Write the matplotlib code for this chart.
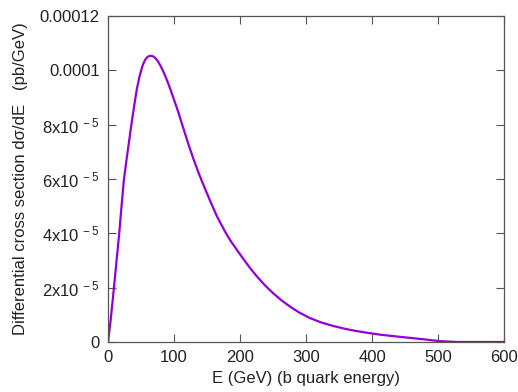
import matplotlib

matplotlib.use("Agg")
import matplotlib.pyplot as plt

plt.rcParams["font.family"] = ["Liberation Sans", "DejaVu Sans"]
plt.rcParams["mathtext.fontset"] = "custom"
plt.rcParams["mathtext.rm"] = "Liberation Sans"
plt.rcParams["mathtext.default"] = "regular"

# Energia del quark b (GeV) y seccion eficaz diferencial (pb/GeV)
energy = [0, 4, 9, 13, 17, 20.5, 24, 28, 32, 36, 40, 44, 48, 52, 56, 60, 64,
          68, 72, 76, 80, 84, 88, 92, 96, 100, 106, 114, 122, 130, 138, 146,
          155, 165, 177, 185, 195, 205, 215, 225, 238, 250, 263, 276, 290,
          306, 323, 341, 360, 377, 395, 412, 442, 478, 503, 530, 600]
dsigma = [0, 0.8e-5, 2.0e-5, 3.0e-5, 4.0e-5, 5.0e-5, 5.95e-5, 6.7e-5, 7.4e-5,
          8.1e-5, 8.75e-5, 9.35e-5, 9.8e-5, 1.015e-4, 1.038e-4, 1.05e-4, 1.054e-4,
          1.052e-4, 1.045e-4, 1.032e-4, 1.015e-4, 9.95e-5, 9.72e-5, 9.47e-5,
          9.2e-5, 8.92e-5, 8.5e-5, 7.88e-5, 7.27e-5, 6.7e-5, 6.18e-5, 5.7e-5,
          5.18e-5, 4.63e-5, 4.08e-5, 3.75e-5, 3.4e-5, 3.06e-5, 2.73e-5, 2.43e-5,
          2.08e-5, 1.8e-5, 1.53e-5, 1.3e-5, 1.08e-5,
          0.88e-5, 0.72e-5, 0.59e-5, 0.48e-5, 0.4e-5, 0.33e-5, 0.27e-5, 0.19e-5,
          0.1e-5, 0.03e-5, 0, 0]

x_ticks = [0, 100, 200, 300, 400, 500, 600]
y_ticks = [0, 2e-5, 4e-5, 6e-5, 8e-5, 1e-4, 1.2e-4]
y_tick_labels = ["0", "2x10$^{\\,-5}$", "4x10$^{\\,-5}$", "6x10$^{\\,-5}$",
                 "8x10$^{\\,-5}$", "0.0001", "0.00012"]

fig = plt.figure(figsize=(5.18, 3.92), dpi=100)
ax = fig.add_axes([0.2085, 0.1276, 0.7645, 0.8314])

ax.plot(energy, dsigma, color="#9400D3", linewidth=1.6)

ax.set_xlim(0, 600)
ax.set_ylim(0, 1.2e-4)
ax.set_xticks(x_ticks)
ax.set_xticklabels([str(t) for t in x_ticks])
ax.set_yticks(y_ticks)
ax.set_yticklabels(y_tick_labels)
ax.tick_params(direction="in", length=6, width=0.8, top=True, right=True,
               labelsize=12, colors="#555555", labelcolor="#222222", pad=6)
for spine in ax.spines.values():
    spine.set_color("#555555")
    spine.set_linewidth(0.9)

ax.set_xlabel("E (GeV) (b quark energy)", fontsize=12, color="#222222", labelpad=4)
ax.set_ylabel("Differential cross section d\u03c3/dE   (pb/GeV)", fontsize=12,
              color="#222222", labelpad=8)

fig.savefig("out.png", dpi=100)
plt.close(fig)
